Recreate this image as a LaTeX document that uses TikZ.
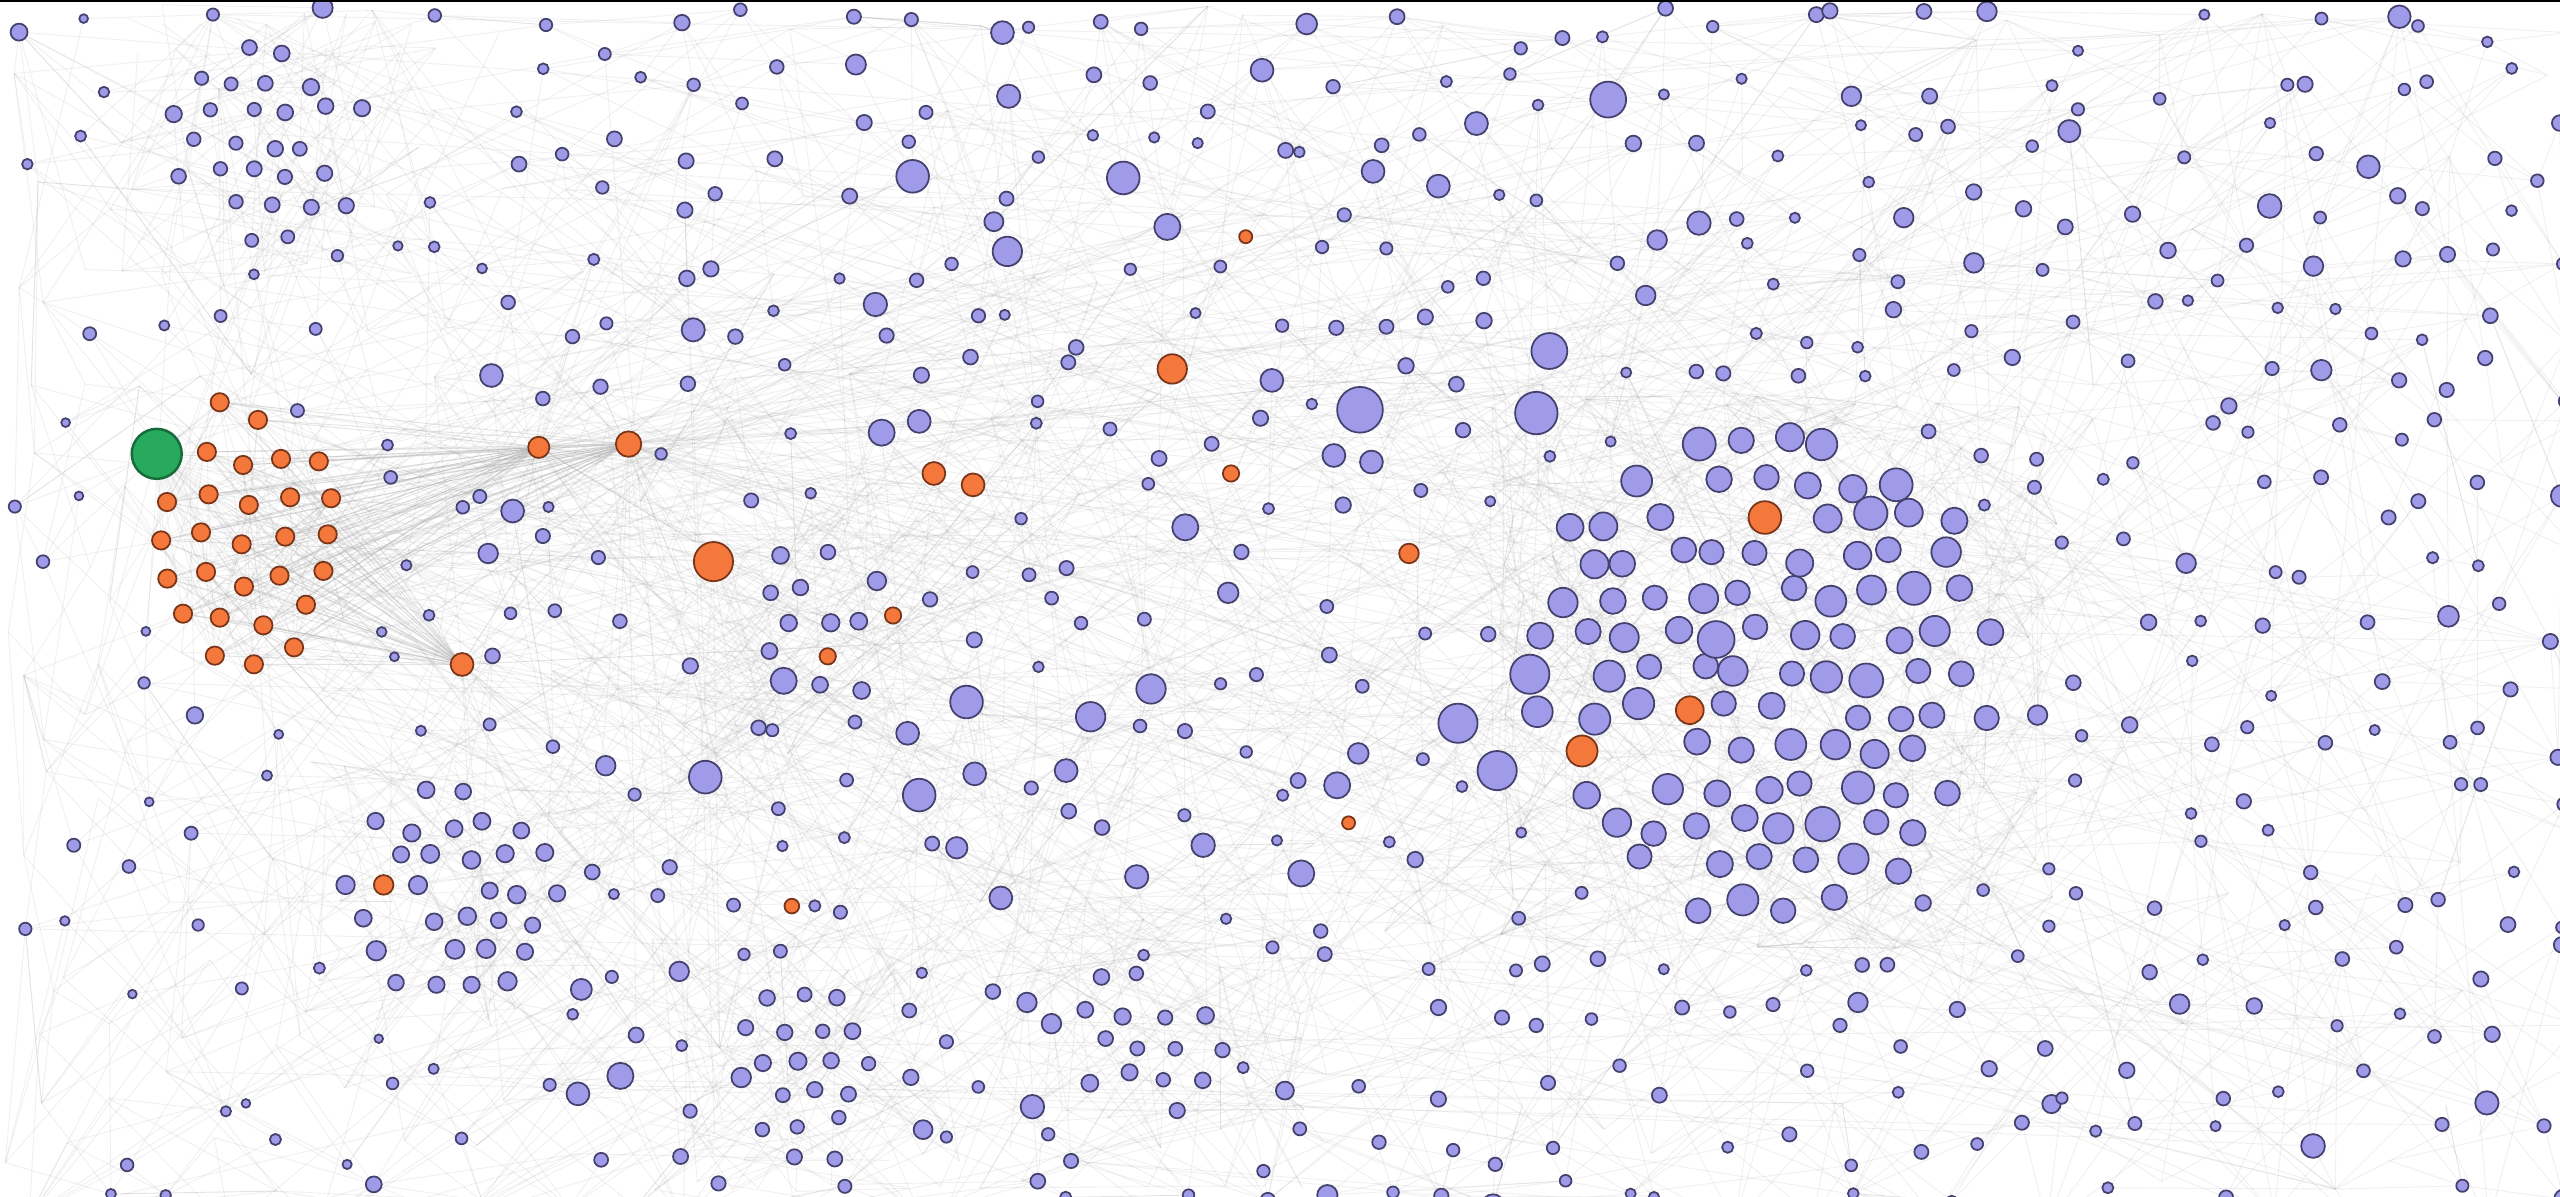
\documentclass[tikz,border=0pt]{standalone}
\definecolor{pfill}{HTML}{A09BE8}
\definecolor{pdraw}{HTML}{45416F}
\definecolor{ofill}{HTML}{F4773B}
\definecolor{odraw}{HTML}{7A3418}
\definecolor{gfill}{HTML}{27A95E}
\definecolor{gdraw}{HTML}{176B3A}
\definecolor{edgec}{HTML}{A8A8A8}
\pgfdeclarelayer{bg}
\pgfdeclarelayer{edges}
\pgfsetlayers{bg,edges,main}
\newdimen\dA \newdimen\dB \newdimen\dR
\newcommand\chkav[4]{%
  \gdef\avflag{0}%
  \foreach \bx/\by/\br in #1 {%
    \dA=#2pt \advance\dA by -\bx pt \ifdim\dA<0pt \dA=-\dA\fi
    \dB=#3pt \advance\dB by -\by pt \ifdim\dB<0pt \dB=-\dB\fi
    \dR=\br pt \advance\dR by #4pt
    \ifdim\dA<\dR \ifdim\dB<\dR \gdef\avflag{1}\fi\fi
  }}
\def\oclist{134.6/246.4,158.0/257.2,126.7/276.8,148.9/284.8,172.1/281.1,195.3/282.6,
102.3/307.5,127.8/302.8,152.4/309.3,177.7/304.6,202.8/305.2,
98.7/331.0,123.1/326.1,148.0/333.4,174.7/328.7,200.7/327.3,
102.5/354.4,126.2/350.3,149.4/359.3,171.2/352.6,198.1/349.7,
112.1/375.9,134.6/378.3,161.3/383.0,187.4/370.4,
131.6/401.6,155.5/406.9,180.1/396.5}
\def\orangelist{330/274/6.5,385/272/7.8,283/407/7,437/344/12,718/226/9,572/290/7,596/297/7,763/145/4,754/290/5,863/339/6,547/377/5,507/402/5,485/555/4.5,235/542/6,826/504/4,1081/317/10,1035/435/8.5,969/460/9.5}
\def\biglist{833/251/14,941/253/13,949/215/11,985/61/11,688/109/10,559/108/10,617/154/9,715/139/8,893/443/12,917/472/12,937/413/12,432/476/10,592/430/10,563/487/10,668/439/9,705/422/9,480/417/8,354/670/7,380/659/8,540/265/8,726/323/8,797/535/8,819/481/8,773/43/7,614/20/7,1217/7/6,1339/345/6,1417/163/6,1138/614/6,1335/615/6,301/230/7,314/313/7,299/339/6,371/469/6,613/550/7,779/233/7,840/283/7,817/279/7,1248/438/6,653/472/7,597/474/7,881/114/7,841/105/7,1209/161/6,1134/59/6,1015/147/6,1008/181/6,416/595/6,454/660/6,629/614/6,644/627/6,787/668/5.5,182.2/251.5/4}
\edef\avoidlist{\biglist,\orangelist,96/278/15.3}
\def\minidisk{165/88/62,275/545/68,505/380/58,490/650/52,700/640/50}
\def\minilist{165/88/62/22/4.4/A,275/545/68/22/5.2/B,505/380/58/24/5/C,490/650/52/22/4.6/D,700/640/50/24/4.6/E}
\begin{document}
\begin{tikzpicture}[x=0.0163265cm,y=-0.0163265cm,
  pn/.style={circle,draw=pdraw,fill=pfill,line width=0.5pt,inner sep=0pt,minimum size=#1*0.032653cm},
  on/.style={circle,draw=odraw,fill=ofill,line width=0.5pt,inner sep=0pt,minimum size=#1*0.032653cm},
  gn/.style={circle,draw=gdraw,fill=gfill,line width=0.7pt,inner sep=0pt,minimum size=#1*0.032653cm},
  ed/.style={draw=edgec,line width=0.25pt,opacity=0.17},
  edh/.style={draw=edgec,line width=0.25pt,opacity=0.3}]
\useasboundingbox (0,0) rectangle (1568,733);
\begin{pgfonlayer}{bg}\fill[white] (0,0) rectangle (1568,733);\end{pgfonlayer}
\pgfmathsetseed{4242}
% explicit nodes
\node[gn=15.3] (green) at (96,278) {};
\foreach \bx/\by [count=\n] in \oclist {\node[on=5.6] (oc\n) at (\bx,\by) {};}
\foreach \bx/\by/\br [count=\n] in \orangelist {\node[on=\br] (o\n) at (\bx,\by) {};}
\foreach \bx/\by/\br [count=\n] in \biglist {\node[pn=\br] (b\n) at (\bx,\by) {};}
% background field
\foreach \i in {0,...,43}{
 \foreach \j in {0,...,20}{
  \pgfmathsetmacro\xx{(\i+0.5+0.85*(rnd-0.5))*36}
  \pgfmathsetmacro\yy{(\j+0.5+0.85*(rnd-0.5))*36}
  \pgfmathsetmacro\rr{(3.1+1.7*rnd+2.5*(rnd<0.06))*(((\xx<300)) ? 0.85 : 1)}
  \chkav{\avoidlist}{\xx}{\yy}{8}\let\fa\avflag
  \chkav{\minidisk}{\xx}{\yy}{4}\let\fb\avflag
  \pgfmathtruncatemacro\sk{(\fa) || (\fb) || ((((\xx-1080)/165)*((\xx-1080)/165)+((\yy-412)/170)*((\yy-412)/170))<1) || ((((\xx-150)/72)*((\xx-150)/72)+((\yy-326)/95)*((\yy-326)/95))<1) || (rnd<0.2) || ((\xx<330) && (rnd<0.35)) || ((\xx<40) && (rnd<0.4))}
  \ifnum\sk=1 \coordinate (g-\i-\j) at (\xx,\yy);
  \else \node[pn=\rr] (g-\i-\j) at (\xx,\yy) {};\fi
 }}
% dense cluster
\foreach \i in {0,...,12}{
 \foreach \j in {0,...,14}{
  \pgfmathsetmacro\xx{1080+27*(\i-6+0.5*mod(\j,2))+11*(rnd-0.5)}
  \pgfmathsetmacro\yy{412+23.5*(\j-7)+10*(rnd-0.5)}
  \pgfmathsetmacro\rr{7.4+4.2*rnd*rnd}
  \chkav{\avoidlist}{\xx}{\yy}{10}
  \pgfmathtruncatemacro\sk{(\avflag) || ((((\xx-1080)/150)*((\xx-1080)/150)+((\yy-412)/155)*((\yy-412)/155))>1) || (rnd<0.05)}
  \ifnum\sk=1 \coordinate (k-\i-\j) at (\xx,\yy);
  \else \node[pn=\rr] (k-\i-\j) at (\xx,\yy) {};\fi
 }}
% mini clusters
\foreach \cx/\cy/\RR/\spc/\rad/\nm in \minilist {
 \foreach \i in {0,...,8}{
  \foreach \j in {0,...,8}{
   \pgfmathsetmacro\xx{\cx+\spc*(\i-4+0.5*mod(\j,2))+0.35*\spc*(rnd-0.5)}
   \pgfmathsetmacro\yy{\cy+0.87*\spc*(\j-4)+0.35*\spc*(rnd-0.5)}
   \chkav{\avoidlist}{\xx}{\yy}{7}
   \pgfmathtruncatemacro\sk{(\avflag) || ((((\xx-\cx)/\RR)*((\xx-\cx)/\RR)+((\yy-\cy)/\RR)*((\yy-\cy)/\RR))>1) || (rnd<0.1)}
   \pgfmathsetmacro\rr{\rad*(0.9+0.25*rnd)}
   \ifnum\sk=1 \coordinate (m\nm-\i-\j) at (\xx,\yy);
   \else \node[pn=\rr] (m\nm-\i-\j) at (\xx,\yy) {};\fi
  }}}
\fill[black] (0,0) rectangle (1568,1.1);
% ---------- edges ----------
\begin{pgfonlayer}{edges}
\foreach \i in {0,...,43}{
 \foreach \j in {0,...,20}{
  \foreach \e in {1,2}{
   \pgfmathtruncatemacro\ti{max(0,min(43,\i+round(9*(rnd-0.5))))}
   \pgfmathtruncatemacro\tj{max(0,min(20,\j+round(9*(rnd-0.5))))}
   \pgfmathtruncatemacro\same{(\ti==\i) && (\tj==\j)}
   \ifnum\same=0 \draw[ed] (g-\i-\j) -- (g-\ti-\tj);\fi
  }}}
\foreach \e in {1,...,350}{
  \pgfmathtruncatemacro\ai{min(43,int(44*rnd))}
  \pgfmathtruncatemacro\aj{min(20,int(21*rnd))}
  \pgfmathtruncatemacro\bi{min(43,int(44*rnd))}
  \pgfmathtruncatemacro\bj{min(20,int(21*rnd))}
  \pgfmathtruncatemacro\same{(\ai==\bi) && (\aj==\bj)}
  \ifnum\same=0 \draw[ed] (g-\ai-\aj) -- (g-\bi-\bj);\fi
}
% dense cluster edges
\foreach \i in {0,...,12}{
 \foreach \j in {0,...,14}{
  \foreach \e in {1,2,3}{
   \pgfmathtruncatemacro\ti{max(0,min(12,\i+round(7*(rnd-0.5))))}
   \pgfmathtruncatemacro\tj{max(0,min(14,\j+round(7*(rnd-0.5))))}
   \pgfmathtruncatemacro\same{(\ti==\i) && (\tj==\j)}
   \ifnum\same=0 \draw[ed] (k-\i-\j) -- (k-\ti-\tj);\fi
  }
  \pgfmathtruncatemacro\gi{max(0,min(43,floor((1080+27*(\i-6))/36)+round(14*(rnd-0.5))))}
  \pgfmathtruncatemacro\gj{max(0,min(20,floor((412+23.5*(\j-7))/36)+round(12*(rnd-0.5))))}
  \draw[ed] (k-\i-\j) -- (g-\gi-\gj);
 }}
% mini cluster edges
\foreach \cx/\cy/\RR/\spc/\rad/\nm in \minilist {
 \foreach \e in {1,...,70}{
  \pgfmathtruncatemacro\ai{min(8,int(9*rnd))}
  \pgfmathtruncatemacro\aj{min(8,int(9*rnd))}
  \pgfmathtruncatemacro\bi{min(8,int(9*rnd))}
  \pgfmathtruncatemacro\bj{min(8,int(9*rnd))}
  \pgfmathtruncatemacro\same{(\ai==\bi) && (\aj==\bj)}
  \ifnum\same=0 \draw[ed] (m\nm-\ai-\aj) -- (m\nm-\bi-\bj);\fi
 }
 \foreach \e in {1,...,25}{
  \pgfmathtruncatemacro\ai{min(8,int(9*rnd))}
  \pgfmathtruncatemacro\aj{min(8,int(9*rnd))}
  \pgfmathtruncatemacro\gi{max(0,min(43,floor(\cx/36)+round(12*(rnd-0.5))))}
  \pgfmathtruncatemacro\gj{max(0,min(20,floor(\cy/36)+round(10*(rnd-0.5))))}
  \draw[ed] (m\nm-\ai-\aj) -- (g-\gi-\gj);
 }}
% big nodes
\foreach \bx/\by/\br [count=\n] in \biglist {
 \foreach \e in {1,...,6}{
  \pgfmathtruncatemacro\gi{max(0,min(43,floor(\bx/36)+round(10*(rnd-0.5))))}
  \pgfmathtruncatemacro\gj{max(0,min(20,floor(\by/36)+round(10*(rnd-0.5))))}
  \draw[ed] (b\n) -- (g-\gi-\gj);
 }}
% orange cluster and hubs
\foreach \n in {1,...,28}{
  \draw[edh] (oc\n) -- (o1);
  \draw[edh] (oc\n) -- (o2);
  \draw[edh] (oc\n) -- (o3);
  \draw[ed] (oc\n) -- (green);
  \foreach \e in {1,2,3}{
   \pgfmathtruncatemacro\m{min(28,1+int(28*rnd))}
   \ifnum\m=\n\else\draw[ed] (oc\n) -- (oc\m);\fi
  }
  \foreach \e in {1,2,3}{
   \pgfmathtruncatemacro\gi{min(43,8+int(16*rnd))}
   \pgfmathtruncatemacro\gj{min(20,3+int(15*rnd))}
   \draw[ed] (oc\n) -- (g-\gi-\gj);
  }
}
\foreach \h in {1,2}{
 \foreach \e in {1,...,30}{
  \pgfmathtruncatemacro\gi{min(43,9+int(22*rnd))}
  \pgfmathtruncatemacro\gj{min(20,1+int(18*rnd))}
  \draw[ed] (o\h) -- (g-\gi-\gj);
 }}
\foreach \h in {3,4}{
 \foreach \e in {1,...,18}{
  \pgfmathtruncatemacro\gi{min(43,5+int(14*rnd))}
  \pgfmathtruncatemacro\gj{min(20,6+int(14*rnd))}
  \draw[ed] (o\h) -- (g-\gi-\gj);
 }}
\foreach \e in {1,...,8}{
  \pgfmathtruncatemacro\gi{min(43,int(7*rnd))}
  \pgfmathtruncatemacro\gj{min(20,2+int(14*rnd))}
  \draw[ed] (green) -- (g-\gi-\gj);
}
\end{pgfonlayer}
\end{tikzpicture}
\end{document}
